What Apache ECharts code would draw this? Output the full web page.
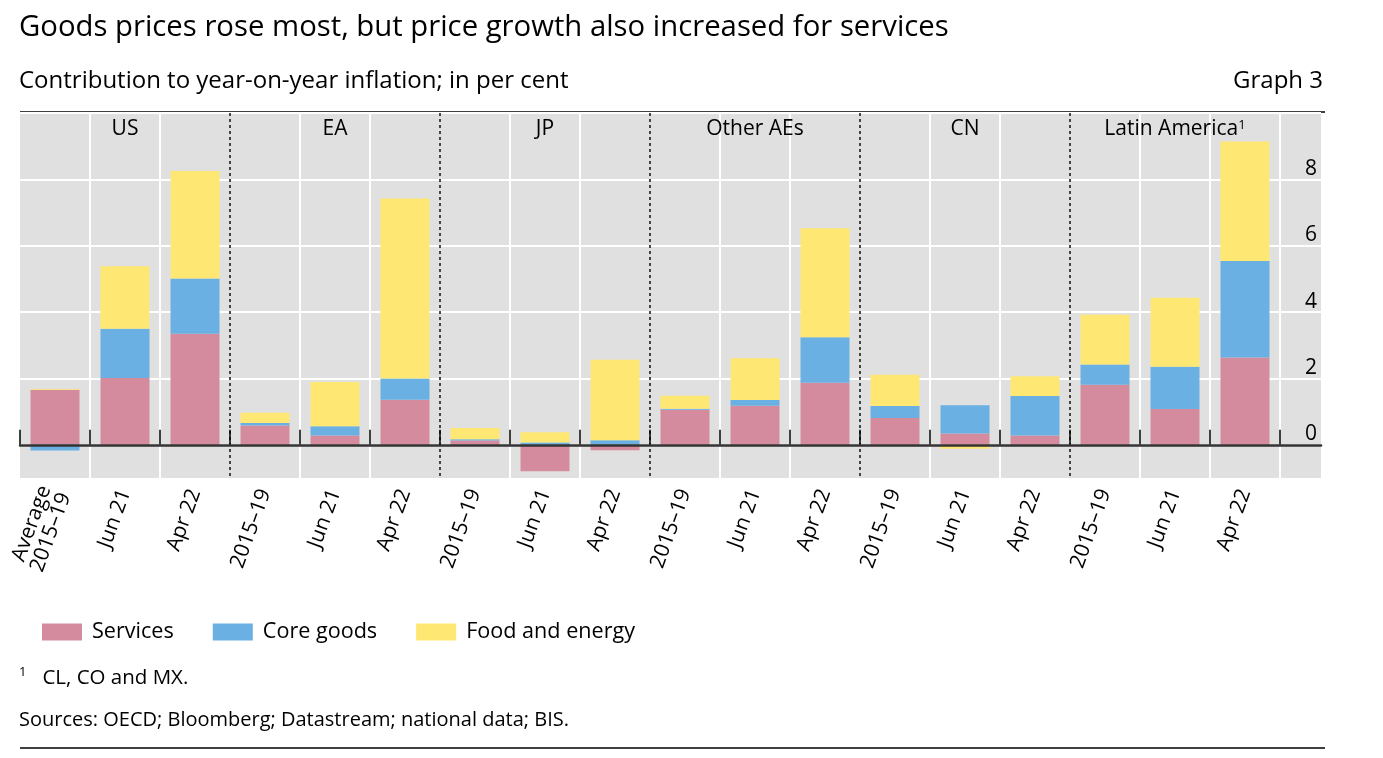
<!DOCTYPE html>
<html><head><meta charset="utf-8">
<script src="https://cdn.jsdelivr.net/npm/echarts@6/dist/echarts.min.js"></script>
<style>html,body{margin:0;padding:0;background:#fff}#c{width:1383px;height:758px}</style>
</head><body><div id="c"></div>
<script>
const groups = ['US', 'EA', 'JP', 'Other AEs', 'CN', 'Latin America'];
const periods = ['2015–19', 'Jun 21', 'Apr 22'];
const categories = ['Average\n2015–19', 'Jun 21', 'Apr 22', '2015–19', 'Jun 21', 'Apr 22', '2015–19', 'Jun 21', 'Apr 22', '2015–19', 'Jun 21', 'Apr 22', '2015–19', 'Jun 21', 'Apr 22', '2015–19', 'Jun 21', 'Apr 22'];
const services   = [1.66, 2.01, 3.35, 0.58, 0.28, 1.36, 0.13, -0.80, -0.16, 1.06, 1.18, 1.87, 0.81, 0.34, 0.28, 1.81, 1.08, 2.63];
const coreGoods  = [-0.17, 1.49, 1.66, 0.08, 0.28, 0.64, 0.04, 0.07, 0.14, 0.03, 0.17, 1.37, 0.36, 0.85, 1.19, 0.61, 1.27, 2.91];
const foodEnergy = [0.02, 1.88, 3.24, 0.31, 1.33, 5.42, 0.34, 0.31, 2.42, 0.39, 1.26, 3.29, 0.94, -0.12, 0.60, 1.50, 2.08, 3.60];
const yTicks = [0, 2, 4, 6, 8];

const FONT = 'Open Sans';
const groupLabels = [];
groups.forEach(g => { groupLabels.push('', g, ''); });
const vColors = categories.map((c, i) => (i % 3 === 0 ? 'rgba(0,0,0,0)' : '#ffffff'));
vColors.push('#ffffff');

const chart = echarts.init(document.getElementById('c'), null, {renderer: 'canvas'});
const mkBar = (name, data, color) => ({
  name, type: 'bar', stack: 'total', data, xAxisIndex: 0, yAxisIndex: 0,
  barWidth: 49, itemStyle: {color}, emphasis: {disabled: true}
});
chart.setOption({
  animation: false,
  textStyle: {fontFamily: FONT, color: '#000'},
  title: [
    {text: 'Goods prices rose most, but price growth also increased for services', left: 14, top: 8,
     textStyle: {fontFamily: FONT, fontSize: 29.3, fontWeight: 'normal', color: '#000'}},
    {text: 'Contribution to year-on-year inflation; in per cent', left: 14, top: 64,
     textStyle: {fontFamily: FONT, fontSize: 24, fontWeight: 'normal', color: '#000'}},
    {text: 'Graph 3', right: 55, top: 64,
     textStyle: {fontFamily: FONT, fontSize: 24, fontWeight: 'normal', color: '#000'}},
    {text: '{s|1}   CL, CO and MX.', left: 14, top: 661,
     textStyle: {fontFamily: FONT, fontSize: 20.5, fontWeight: 'normal', color: '#000',
       rich: {s: {fontFamily: FONT, fontSize: 13, verticalAlign: 'top', lineHeight: 24}}}},
    {text: 'Sources: OECD; Bloomberg; Datastream; national data; BIS.', left: 14, top: 705,
     textStyle: {fontFamily: FONT, fontSize: 20, fontWeight: 'normal', color: '#000'}}
  ],
  legend: {
    left: 37, top: 616, itemWidth: 40, itemHeight: 17, itemGap: 39, icon: 'rect',
    textStyle: {fontFamily: FONT, fontSize: 21.6, color: '#000', padding: [0, 0, 0, 5]},
    data: ['Services', 'Core goods', 'Food and energy']
  },
  graphic: [
    {type: 'rect', z: -10, silent: true, shape: {x: 20, y: 113, width: 1301, height: 365}, style: {fill: '#e0e0e0'}},
    {type: 'line', silent: true, shape: {x1: 20, y1: 112, x2: 1325, y2: 112}, style: {stroke: '#000', lineWidth: 1.5}},
    {type: 'line', silent: true, shape: {x1: 20, y1: 748, x2: 1325, y2: 748}, style: {stroke: '#000', lineWidth: 1.5}}
  ],
  grid: [
    {left: 20, right: 103, top: 113, bottom: 280, containLabel: false},
    {left: 20, right: 62, top: 113, height: 10 * 365 / 11, containLabel: false}
  ],
  xAxis: [
    {type: 'category', gridIndex: 0, position: 'bottom', data: categories, boundaryGap: true,
     axisLine: {show: false},
     axisTick: {show: true, inside: true, length: 15, interval: 0, lineStyle: {color: '#000', width: 1.5}},
     axisLabel: {interval: 0, rotate: 70, margin: 12, fontFamily: FONT, fontSize: 21, color: '#000', lineHeight: 21},
     splitLine: {show: true, interval: 0, lineStyle: {color: vColors, width: 2}}},
    {type: 'category', gridIndex: 0, position: 'top', data: groupLabels, boundaryGap: true,
     axisLine: {show: false}, axisTick: {show: false},
     axisLabel: {interval: 0, inside: true, margin: 6, fontFamily: FONT, fontSize: 21, color: '#000',
       formatter: v => v === 'Latin America' ? 'Latin America{s|1}' : v,
       rich: {s: {fontFamily: FONT, fontSize: 13, verticalAlign: 'top', padding: [0, 0, 8, 0]}}},
     splitLine: {show: false}},
    {type: 'value', gridIndex: 0, position: 'bottom', min: 0, max: 18, interval: 3,
     axisLine: {show: false}, axisTick: {show: false}, axisLabel: {show: false},
     splitLine: {show: true, showMinLine: false, showMaxLine: false,
       lineStyle: {color: '#111', width: 1.5, type: [3, 3]}}},
    {type: 'value', gridIndex: 1, min: 0, max: 1, z: 10,
     axisLine: {show: true, onZero: false, lineStyle: {color: '#333', width: 2.5}},
     axisTick: {show: false}, axisLabel: {show: false}, splitLine: {show: false}}
  ],
  yAxis: [
    {type: 'value', gridIndex: 0, min: -1, max: 10, show: false},
    {type: 'value', gridIndex: 1, position: 'right', min: 0, max: 10, interval: 2,
     axisLine: {show: false}, axisTick: {show: false},
     axisLabel: {inside: true, margin: 4, fontFamily: FONT, fontSize: 21, color: '#000', verticalAlign: 'bottom',
       formatter: v => yTicks.indexOf(v) >= 0 ? String(v) : ''},
     splitLine: {show: true, lineStyle: {color: '#ffffff', width: 2}}}
  ],
  series: [
    mkBar('Services', services, '#d48b9e'),
    mkBar('Core goods', coreGoods, '#6ab0e2'),
    mkBar('Food and energy', foodEnergy, '#fee772')
  ]
});
</script></body></html>
